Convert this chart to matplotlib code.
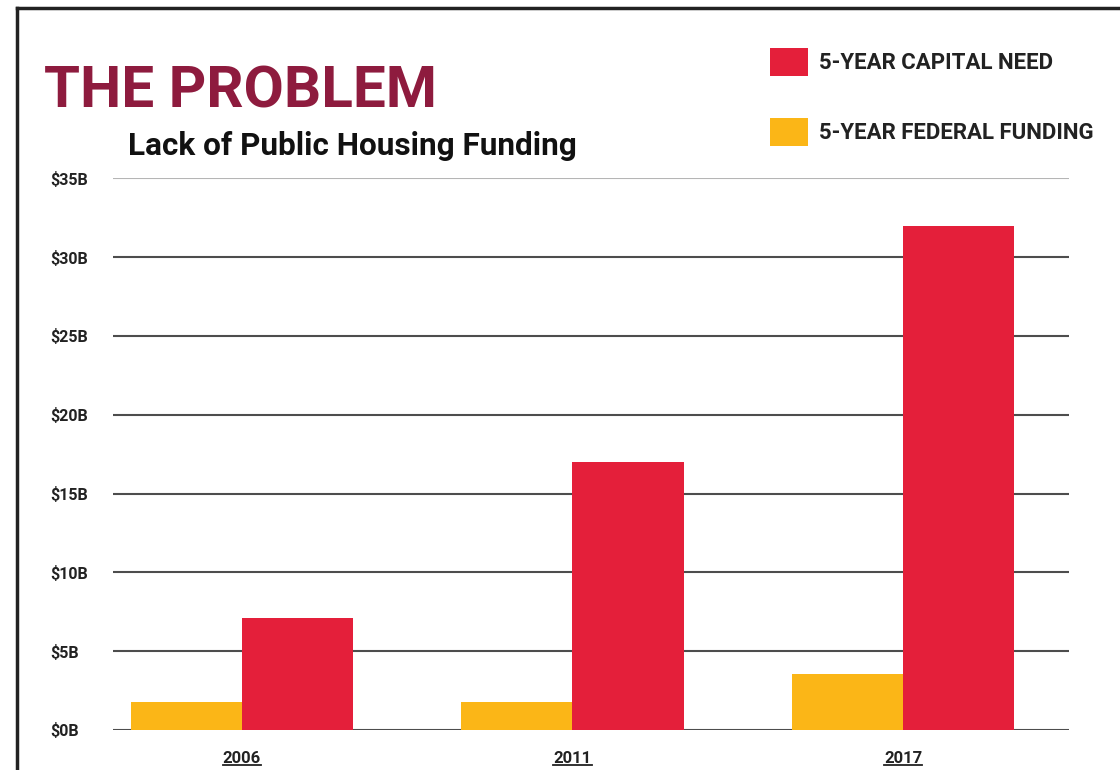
import matplotlib
matplotlib.use("Agg")
import matplotlib.pyplot as plt
import numpy as np
from matplotlib.lines import Line2D

# ---- data ----
years = ["2006", "2011", "2017"]
capital_need = [7.1, 17.0, 32.0]      # $B
federal_funding = [1.8, 1.8, 3.55]    # $B
y_ticks = [0, 5, 10, 15, 20, 25, 30, 35]
y_tick_labels = ["$0B", "$5B", "$10B", "$15B", "$20B", "$25B", "$30B", "$35B"]
series_labels = ["5-YEAR CAPITAL NEED", "5-YEAR FEDERAL FUNDING"]

RED = "#E41F3A"
YELLOW = "#FBB617"
TITLE_COL = "#8E1B3E"
FONT = ["Roboto", "DejaVu Sans"]

W, H = 1120, 770
fig = plt.figure(figsize=(W / 100, H / 100), dpi=100)
fig.patch.set_facecolor("white")

ax_l, ax_r = 113, 1069
y0, y35 = 730, 178.4
ax = fig.add_axes([ax_l / W, 1 - y0 / H, (ax_r - ax_l) / W, (y0 - y35) / H])

x = np.arange(len(years))
bw = 0.336
ax.bar(x - bw / 2, federal_funding, width=bw, color=YELLOW, zorder=3, label=series_labels[1])
ax.bar(x + bw / 2, capital_need, width=bw, color=RED, zorder=3, label=series_labels[0])

ax.set_xlim(-0.390, 2.502)
ax.set_ylim(0, 35)

for v in y_ticks:
    col = "#B5B5B5" if v == 35 else "#4D4D4D"
    ax.axhline(v, color=col, lw=1.5, zorder=2)

for s in ax.spines.values():
    s.set_visible(False)

ax.set_yticks(y_ticks)
ax.set_yticklabels(y_tick_labels, fontsize=11.5, fontweight="bold", family=FONT, color="#222222")
ax.tick_params(axis="y", length=0, pad=45)
for lab in ax.get_yticklabels():
    lab.set_horizontalalignment("left")

ax.set_xticks(x)
ax.set_xticklabels(years, fontsize=12, fontweight="bold", family=FONT, color="#222222")
ax.tick_params(axis="x", length=0, pad=15)

fig.text(44 / W, 1 - 107 / H, "THE PROBLEM", fontsize=42, fontweight="bold",
         color=TITLE_COL, family=FONT, ha="left", va="baseline")
fig.text(128 / W, 1 - 155 / H, "Lack of Public Housing Funding", fontsize=22.7,
         fontweight="bold", color="#111111", family=FONT, ha="left", va="baseline")

h, l = ax.get_legend_handles_labels()
leg = fig.legend([h[1], h[0]], [l[1], l[0]], loc="upper left",
                 bbox_to_anchor=(770 / W, 1 - 48 / H), frameon=False,
                 prop={"family": FONT, "weight": "bold", "size": 16},
                 handlelength=1.7, handleheight=1.55, handletextpad=0.5,
                 labelspacing=1.9, borderaxespad=0, borderpad=0)
for t in leg.get_texts():
    t.set_color("#222222")

# underline the year labels (from their rendered extents)
fig.canvas.draw()
renderer = fig.canvas.get_renderer()
inv = fig.transFigure.inverted()
for lab in ax.get_xticklabels():
    bb = lab.get_window_extent(renderer)
    (fx0, fy0), (fx1, fy1) = inv.transform([(bb.x0, bb.y0), (bb.x1, bb.y1)])
    yline = fy0 + 1.0 / H
    fig.add_artist(Line2D([fx0, fx1], [yline, yline], transform=fig.transFigure,
                          color="#222222", lw=1.3))

fig.add_artist(Line2D([17 / W, 17 / W], [0, 1 - 8 / H], transform=fig.transFigure,
                      color="#222222", lw=2.5))
fig.add_artist(Line2D([17 / W, 1], [1 - 8 / H, 1 - 8 / H], transform=fig.transFigure,
                      color="#222222", lw=2.5))

fig.savefig("out.png", dpi=100)
